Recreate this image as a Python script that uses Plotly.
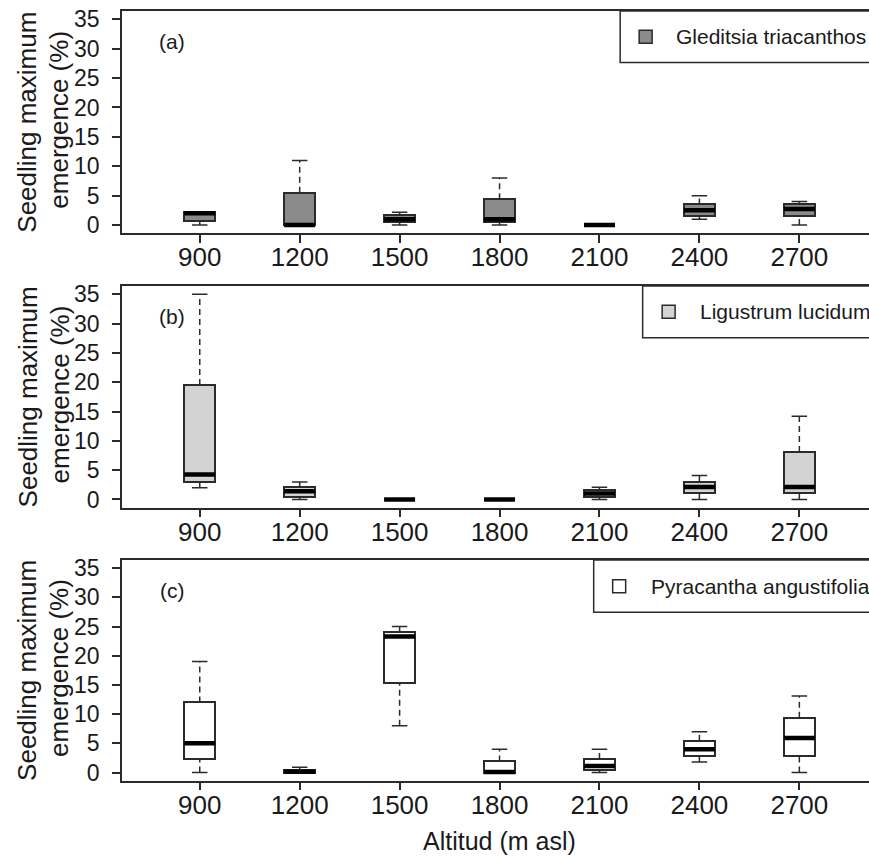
import plotly.graph_objects as go

# ---------------- data ----------------
altitudes = [900, 1200, 1500, 1800, 2100, 2400, 2700]
y_tick_values = [0, 5, 10, 15, 20, 25, 30, 35]

species_names = ["Gleditsia triacanthos", "Ligustrum lucidum", "Pyracantha angustifolia"]
panel_tags = ["(a)", "(b)", "(c)"]

# Gleditsia triacanthos
g_min = [0, 0, 0, 0, 0, 1, 0]
g_q1 = [0.75, 0, 0.5, 0.5, 0, 1.5, 1.5]
g_med = [2, 0, 1, 1, 0, 2.5, 2.75]
g_q3 = [2.25, 5.5, 1.75, 4.4, 0, 3.5, 3.5]
g_max = [2.25, 11, 2.2, 8, 0, 5, 4]

# Ligustrum lucidum
l_min = [2, 0, 0, 0, 0, 0, 0]
l_q1 = [3, 0.4, 0, 0, 0.4, 1.1, 1.1]
l_med = [4.25, 1.4, 0, 0, 1, 2.15, 2.15]
l_q3 = [19.5, 2.1, 0, 0, 1.6, 3.05, 8.1]
l_max = [35, 3, 0, 0, 2.1, 4.1, 14.2]

# Pyracantha angustifolia
p_min = [0, 0, 8, 0, 0, 1.8, 0]
p_q1 = [2.4, 0, 15.3, 0, 0.4, 2.8, 2.8]
p_med = [5, 0.15, 23.3, 0.1, 1.1, 4, 5.9]
p_q3 = [12, 0.5, 24.1, 1.9, 2.3, 5.4, 9.4]
p_max = [19, 0.9, 25, 4, 4, 7, 13.1]

stats = [
    (g_min, g_q1, g_med, g_q3, g_max),
    (l_min, l_q1, l_med, l_q3, l_max),
    (p_min, p_q1, p_med, p_q3, p_max),
]
fill_colors = ["#8a8a8a", "#d3d3d3", "#ffffff"]

# ---------------- layout geometry ----------------
FIG_W, FIG_H = 869, 856
ML, MR, MT, MB = 121.5, 0, 11, 75
PW = FIG_W - ML - MR
PH = FIG_H - MT - MB
panel_px = [(11, 233.3), (286, 507.7), (560, 780.7)]
X_RANGE = [0.222, 0.222 + PW / 100.0]
Y_RANGE = [-1.4, 36.4]
FONT = "Liberation Sans, Arial, sans-serif"
LINE_C = "#2b2b2b"
BOX_W = 0.31
CAP_W = 0.155


def px2x(px):
    return (px - ML) / PW


def py2y(py):
    return (FIG_H - MB - py) / PH


fig = go.Figure()
positions = list(range(1, len(altitudes) + 1))

for i, (mn, q1, md, q3, mx) in enumerate(stats):
    xa = "x" if i == 0 else f"x{i+1}"
    ya = "y" if i == 0 else f"y{i+1}"
    # boxes
    fig.add_trace(go.Bar(
        x=positions, base=q1, y=[b - a for a, b in zip(q1, q3)], width=BOX_W,
        marker=dict(color=fill_colors[i], line=dict(color=LINE_C, width=2)),
        xaxis=xa, yaxis=ya, showlegend=False, hoverinfo="skip"))
    # whiskers (dashed)
    wx, wy = [], []
    for p, a, b, c, d in zip(positions, mn, q1, q3, mx):
        if d > c:
            wx += [p, p, None]; wy += [c, d, None]
        if a < b:
            wx += [p, p, None]; wy += [a, b, None]
    fig.add_trace(go.Scatter(
        x=wx, y=wy, mode="lines", line=dict(color=LINE_C, width=1.5, dash="6px,4px"),
        xaxis=xa, yaxis=ya, showlegend=False, hoverinfo="skip"))
    # caps
    cx, cy = [], []
    for p, a, d in zip(positions, mn, mx):
        cx += [p - CAP_W / 2, p + CAP_W / 2, None, p - CAP_W / 2, p + CAP_W / 2, None]
        cy += [a, a, None, d, d, None]
    fig.add_trace(go.Scatter(
        x=cx, y=cy, mode="lines", line=dict(color=LINE_C, width=1.5),
        xaxis=xa, yaxis=ya, showlegend=False, hoverinfo="skip"))
    # medians
    mxs, mys = [], []
    for p, m in zip(positions, md):
        mxs += [p - BOX_W / 2, p + BOX_W / 2, None]
        mys += [m, m, None]
    fig.add_trace(go.Scatter(
        x=mxs, y=mys, mode="lines", line=dict(color="#000000", width=4.5),
        xaxis=xa, yaxis=ya, showlegend=False, hoverinfo="skip"))

layout = dict(
    width=FIG_W, height=FIG_H,
    margin=dict(l=ML, r=MR, t=MT, b=MB, autoexpand=False),
    plot_bgcolor="white", paper_bgcolor="white",
    font=dict(family=FONT, color="#1a1a1a"),
    showlegend=False, bargap=0,
)

for i in range(3):
    top, bot = panel_px[i]
    sfx = "" if i == 0 else str(i + 1)
    layout["xaxis" + sfx] = dict(
        domain=[0, 1], range=X_RANGE, anchor="y" + sfx,
        tickmode="array", tickvals=positions, ticktext=[str(a) for a in altitudes],
        ticks="outside", ticklen=8, tickwidth=1.5, tickcolor=LINE_C,
        showline=True, linecolor=LINE_C, linewidth=1.5, mirror=True,
        showgrid=False, zeroline=False, ticklabelstandoff=-8,
        tickfont=dict(size=26, family=FONT, color="#1a1a1a"),
        fixedrange=True,
    )
    layout["yaxis" + sfx] = dict(
        domain=[py2y(bot), py2y(top)], range=Y_RANGE, anchor="x" + sfx,
        tickmode="array", tickvals=y_tick_values,
        ticks="outside", ticklen=8, tickwidth=1.5, tickcolor=LINE_C,
        showline=True, linecolor=LINE_C, linewidth=1.5, mirror=False,
        showgrid=False, zeroline=False, ticklabelstandoff=8,
        tickfont=dict(size=23, family=FONT, color="#1a1a1a"),
        fixedrange=True,
    )

fig.update_layout(**layout)

annotations = []
shapes = []
legend_geom = [  # left border px, bottom px, square center x, text left px
    (620, 62.5, 645.5, 674),
    (642.5, 337.7, 668.5, 697.5),
    (593.5, 612.3, 619, 648.5),
]
for i in range(3):
    top, bot = panel_px[i]
    ymid = (top + bot) / 2
    # y-axis titles
    annotations.append(dict(text="Seedling maximum", x=px2x(27), y=py2y(ymid), xref="paper", yref="paper",
                            textangle=-90, showarrow=False, xanchor="center", yanchor="middle",
                            font=dict(size=26, family=FONT, color="#1a1a1a")))
    annotations.append(dict(text="emergence (%)", x=px2x(59), y=py2y(ymid - 2), xref="paper", yref="paper",
                            textangle=-90, showarrow=False, xanchor="center", yanchor="middle",
                            font=dict(size=26, family=FONT, color="#1a1a1a")))
    # panel tag
    annotations.append(dict(text=panel_tags[i], x=px2x(172), y=py2y(top + 30), xref="paper", yref="paper",
                            showarrow=False, xanchor="center", yanchor="middle",
                            font=dict(size=21, family=FONT, color="#1a1a1a")))
    # legend box
    lx, lb, sqx, tx = legend_geom[i]
    shapes.append(dict(type="rect", xref="paper", yref="paper",
                       x0=px2x(lx), x1=px2x(FIG_W + 10), y0=py2y(lb), y1=py2y(top),
                       line=dict(color=LINE_C, width=1.5), fillcolor="white", layer="above"))
    sq_cy = top + (lb - top) / 2
    shapes.append(dict(type="rect", xref="paper", yref="paper",
                       x0=px2x(sqx - 6.5), x1=px2x(sqx + 6.5), y0=py2y(sq_cy + 6.5), y1=py2y(sq_cy - 6.5),
                       line=dict(color=LINE_C, width=1.5), fillcolor=fill_colors[i], layer="above"))
    annotations.append(dict(text=species_names[i], x=px2x(tx), y=py2y(sq_cy), xref="paper", yref="paper",
                            showarrow=False, xanchor="left", yanchor="middle",
                            font=dict(size=21, family=FONT, color="#1a1a1a")))

# x-axis title
annotations.append(dict(text="Altitud (m asl)", x=px2x(499), y=py2y(841), xref="paper", yref="paper",
                        showarrow=False, xanchor="center", yanchor="middle",
                        font=dict(size=25, family=FONT, color="#1a1a1a")))

fig.update_layout(annotations=annotations, shapes=shapes)
fig.write_html("out.html", config={"displayModeBar": False})
